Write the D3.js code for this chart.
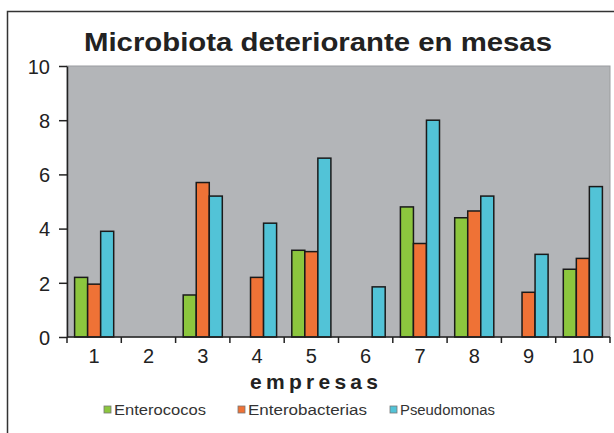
<!DOCTYPE html>
<html>
<head>
<meta charset="utf-8">
<script src="https://cdn.jsdelivr.net/npm/d3@7"></script>
<style>
  body { margin: 0; background: #fff; }
  text { font-family: "Liberation Sans", Arial, sans-serif; fill: #222; }
  .axis path, .axis line { stroke: #222; stroke-width: 1.5; }
  .axis text { font-size: 19px; fill: #222; }
</style>
</head>
<body>
<div id="chart"></div>
<script>
// data
const empresas = ["1", "2", "3", "4", "5", "6", "7", "8", "9", "10"];
const series = ["Enterococos", "Enterobacterias", "Pseudomonas"];
const enterococos = [2.2, 0, 1.55, 0, 3.2, 0, 4.8, 4.4, 0, 2.5];
const enterobacterias = [1.95, 0, 5.7, 2.2, 3.15, 0, 3.45, 4.65, 1.65, 2.9];
const pseudomonas = [3.9, 0, 5.2, 4.2, 6.6, 1.85, 8.0, 5.2, 3.05, 5.55];
const yTicks = [0, 2, 4, 6, 8, 10];
const colors = ["#8cc63e", "#ef7236", "#52c3d7"];

const values = [enterococos, enterobacterias, pseudomonas];
const data = empresas.map((e, i) => ({
  empresa: e,
  vals: series.map((s, j) => ({ key: s, value: values[j][i] })),
}));

const width = 614, height = 433;
const margin = { top: 66, right: 4, bottom: 96, left: 67 };
const innerW = width - margin.left - margin.right;
const innerH = height - margin.top - margin.bottom;

const svg = d3.select("#chart").append("svg")
  .attr("width", width)
  .attr("height", height);

// outer frame (top and left edges visible)
svg.append("path")
  .attr("d", `M7.5,${height} L7.5,11.5 L${width},11.5`)
  .attr("fill", "none")
  .attr("stroke", "#333")
  .attr("stroke-width", 1.5);

// title
svg.append("text")
  .attr("x", 84)
  .attr("y", 51)
  .attr("textLength", 468)
  .attr("lengthAdjust", "spacingAndGlyphs")
  .style("font-size", "26px")
  .style("font-weight", "bold")
  .text("Microbiota deteriorante en mesas");

const g = svg.append("g")
  .attr("transform", `translate(${margin.left}, ${margin.top})`);

const xScale = d3.scaleBand()
  .domain(empresas)
  .range([0, innerW])
  .paddingInner(0.28)
  .paddingOuter(0.14);

const xSub = d3.scaleBand()
  .domain(series)
  .range([0, xScale.bandwidth()]);

const color = d3.scaleOrdinal().domain(series).range(colors);

const yScale = d3.scaleLinear()
  .domain([0, 10])
  .range([innerH, 0]);

// plot background
g.append("rect")
  .attr("width", innerW)
  .attr("height", innerH)
  .attr("fill", "#b3b5b8")
  .attr("stroke", "#9a9c9f")
  .attr("stroke-width", 1);

// bars
const groups = g.selectAll("g.grp")
  .data(data)
  .enter()
  .append("g")
  .attr("class", "grp")
  .attr("transform", (d) => `translate(${xScale(d.empresa)}, 0)`);

groups.selectAll("rect")
  .data((d) => d.vals.filter((v) => v.value > 0))
  .enter()
  .append("rect")
  .attr("x", (d) => xSub(d.key))
  .attr("y", (d) => yScale(d.value))
  .attr("width", xSub.bandwidth())
  .attr("height", (d) => innerH - yScale(d.value))
  .attr("fill", (d) => color(d.key))
  .attr("stroke", "#1a1a1a")
  .attr("stroke-width", 1.5);

// axis-y
g.append("g")
  .attr("class", "axis")
  .call(d3.axisLeft(yScale).tickValues(yTicks).tickSize(8).tickPadding(9).tickSizeOuter(0))
  .call((ax) => ax.selectAll("text").attr("dy", "0.36em").style("font-size", "20px"));

// axis-x: ticks on the category boundaries
const boundaries = d3.range(0, empresas.length + 1).map((i) => i * innerW / empresas.length);
const xAxis = g.append("g")
  .attr("class", "axis")
  .attr("transform", `translate(0, ${innerH})`);
xAxis.append("line")
  .attr("x1", 0).attr("x2", innerW)
  .attr("stroke", "#222").attr("stroke-width", 1.5);
xAxis.selectAll("line.tk")
  .data(boundaries)
  .enter()
  .append("line")
  .attr("class", "tk")
  .attr("x1", (d) => d).attr("x2", (d) => d)
  .attr("y1", 0).attr("y2", 6)
  .attr("stroke", "#222").attr("stroke-width", 1.5);
xAxis.selectAll("text")
  .data(empresas)
  .enter()
  .append("text")
  .attr("x", (d) => xScale(d) + xScale.bandwidth() / 2)
  .attr("y", 26)
  .attr("text-anchor", "middle")
  .style("font-size", "20px")
  .text((d) => d);

// axis title
svg.append("text")
  .attr("x", 250)
  .attr("y", 389)
  .attr("textLength", 128)
  .attr("lengthAdjust", "spacing")
  .style("font-size", "21px")
  .style("font-weight", "bold")
  .text("empresas");

// legend
const legendX = [104, 238, 390];
const legendW = [92, 119, 95];
const legend = svg.append("g").attr("transform", "translate(0, 410)");
const item = legend.selectAll("g")
  .data(series)
  .enter()
  .append("g")
  .attr("transform", (d, i) => `translate(${legendX[i]}, 0)`);
item.append("rect")
  .attr("x", 0).attr("y", -4)
  .attr("width", 7).attr("height", 7)
  .attr("fill", (d) => color(d))
  .attr("stroke", "#777")
  .attr("stroke-width", 0.8);
item.append("text")
  .attr("x", 10)
  .attr("y", 5)
  .attr("textLength", (d, i) => legendW[i])
  .attr("lengthAdjust", "spacingAndGlyphs")
  .style("font-size", "14px")
  .style("fill", "#333")
  .text((d) => d);
</script>
</body>
</html>
